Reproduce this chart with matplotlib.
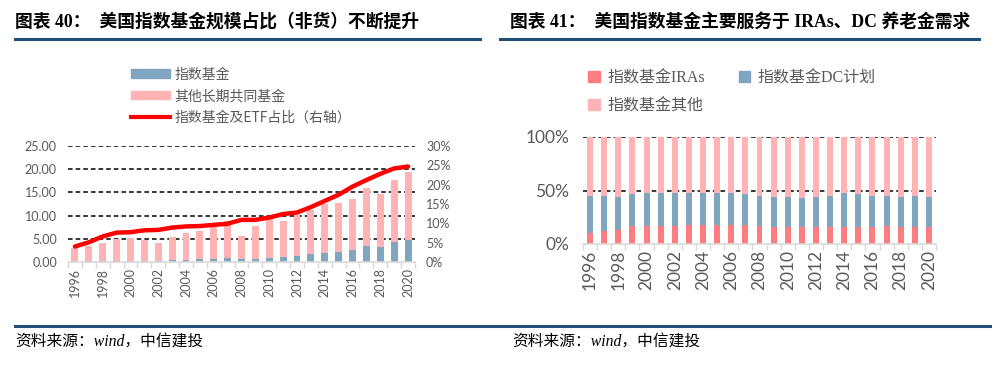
import numpy as np
import matplotlib
matplotlib.use("Agg")
import matplotlib.pyplot as plt
from matplotlib.patches import Patch
from matplotlib.lines import Line2D

plt.rcParams['font.family'] = ['Lato', 'Noto Sans CJK SC', 'DejaVu Sans']

years = list(range(1996, 2021))

# left chart: fund size (left axis) and index share (right axis)
index_fund = [0.1, 0.15, 0.2, 0.3, 0.3, 0.3, 0.3, 0.4, 0.5, 0.55, 0.7, 0.8, 0.55, 0.75,
              0.95, 1.0, 1.3, 1.7, 2.0, 2.2, 2.6, 3.4, 3.3, 4.3, 4.7]
total_fund = [3.1, 3.4, 4.0, 5.0, 5.1, 4.7, 4.1, 5.3, 6.2, 6.7, 7.6, 8.8, 5.7, 7.8,
              9.7, 8.8, 10.2, 11.3, 12.4, 12.8, 13.6, 15.9, 14.7, 17.6, 19.5]
other_fund = [t - i for t, i in zip(total_fund, index_fund)]
index_share = [4.0, 5.1, 6.6, 7.6, 7.7, 8.2, 8.3, 8.9, 9.2, 9.3, 9.6, 9.9, 10.9, 10.9,
               11.5, 12.4, 12.8, 14.2, 15.8, 17.4, 19.5, 21.2, 22.8, 24.2, 24.7]

# right chart: shares (%)
ira_share = [10.3, 12.5, 13.4, 16.5, 16.5, 16.5, 16.5, 17.4, 17.8, 17.4, 17.8, 17.4, 16.5,
             16.2, 15.9, 15.6, 15.6, 15.6, 15.9, 15.9, 16.2, 16.5, 16.2, 16.2, 15.9]
ira_dc_top = [44.5, 44.5, 43.6, 47.0, 47.4, 47.4, 47.4, 47.4, 48.0, 48.0, 47.4, 46.4, 44.9,
              43.6, 44.2, 43.0, 43.6, 45.2, 47.4, 46.4, 45.2, 45.2, 43.6, 44.5, 43.6]
dc_share = [t - i for t, i in zip(ira_dc_top, ira_share)]
other_share = [100 - t for t in ira_dc_top]

BLUE = '#7FA5C0'
PINK = '#FFB3B5'
RED_IRA = '#FF7C80'
GRAY = '#595959'
NAVY = '#1F4E79'

W, H = 1004, 391
fig = plt.figure(figsize=(W / 100, H / 100), dpi=100)


def fx(px):
    return px / W


def fy(py):
    return 1 - py / H


title_font = ['Liberation Serif', 'Noto Sans CJK SC']
fig.text(fx(15), fy(22), '图表 40：  美国指数基金规模占比（非货）不断提升', fontsize=12.8,
         fontweight='bold', family=title_font, va='center', ha='left')
fig.text(fx(510), fy(22), '图表 41：  美国指数基金主要服务于 IRAs、DC 养老金需求', fontsize=12.8,
         fontweight='bold', family=title_font, va='center', ha='left')
fig.add_artist(Line2D([fx(15), fx(480)], [fy(39), fy(39)], color=NAVY, lw=2.2))
fig.add_artist(Line2D([fx(500), fx(979)], [fy(39), fy(39)], color=NAVY, lw=2.2))
fig.add_artist(Line2D([fx(15), fx(990)], [fy(326), fy(326)], color=NAVY, lw=2.2))
src_font = ['Liberation Serif', 'Noto Sans CJK SC']
fig.text(fx(15), fy(342), '资料来源：wind，中信建投', fontsize=11.3, style='italic',
         family=src_font, va='center', ha='left')
fig.text(fx(512), fy(342), '资料来源：wind，中信建投', fontsize=11.3, style='italic',
         family=src_font, va='center', ha='left')

x = np.arange(len(years))
tick_pos = x[::2]
tick_lab = [str(y) for y in years[::2]]


def style_xaxis(ax, fs):
    ax.set_xlim(-0.5, len(years) - 0.5)
    ax.set_xticks(tick_pos)
    ax.set_xticklabels(tick_lab, rotation=90, fontsize=fs, color=GRAY)
    ax.set_xticks(np.arange(-0.5, len(years), 1), minor=True)
    ax.tick_params(axis='x', which='major', length=0, pad=4)
    ax.tick_params(axis='x', which='minor', length=4, color='#D9D9D9', width=1)
    for s in ['top', 'right', 'left']:
        ax.spines[s].set_visible(False)
    ax.spines['bottom'].set_color('#D9D9D9')
    ax.spines['bottom'].set_linewidth(1.2)


# ---- left chart
ax1 = fig.add_axes([fx(68), fy(262), fx(415 - 68), (262 - 146) / H])
ax1.bar(x, index_fund, width=0.5, color=BLUE, zorder=2)
ax1.bar(x, other_fund, width=0.5, bottom=index_fund, color=PINK, zorder=2)
ax1.set_ylim(0, 25)
ax1.set_yticks(np.arange(0, 26, 5))
ax1.set_yticklabels(['%.2f' % v for v in np.arange(0, 26, 5)], fontsize=9, color=GRAY)
ax1.tick_params(axis='y', length=0, pad=8)
for v in range(5, 26, 5):
    ax1.axhline(v, color='black', ls=(0, (3, 2)), lw=1.1, zorder=1)
style_xaxis(ax1, 9)

ax1r = ax1.twinx()
ax1r.plot(x, index_share, color='#FF0000', lw=3.2, zorder=3, solid_capstyle='round')
ax1r.set_ylim(0, 30)
ax1r.set_yticks(np.arange(0, 31, 5))
ax1r.set_yticklabels(['%d%%' % v for v in range(0, 31, 5)], fontsize=9, color=GRAY)
ax1r.tick_params(axis='y', length=0, pad=8)
for s in ['top', 'right', 'left', 'bottom']:
    ax1r.spines[s].set_visible(False)

h1 = [Patch(color=BLUE), Patch(color=PINK), Line2D([], [], color='#FF0000', lw=3)]
fig.legend(h1, ['指数基金', '其他长期共同基金', '指数基金及ETF占比（右轴）'],
           loc='upper left', bbox_to_anchor=(fx(119), fy(55)), frameon=False,
           labelcolor=GRAY, handlelength=2.8, handleheight=0.55,
           labelspacing=0.55, handletextpad=0.3,
           prop={'family': ['Noto Sans CJK SC', 'DejaVu Sans'], 'size': 10})

# ---- right chart
ax2 = fig.add_axes([fx(583), fy(244), fx(936 - 583), (244 - 137) / H])
ax2.bar(x, ira_share, width=0.42, color=RED_IRA, zorder=2)
ax2.bar(x, dc_share, width=0.42, bottom=ira_share, color=BLUE, zorder=2)
ax2.bar(x, other_share, width=0.42, bottom=ira_dc_top, color=PINK, zorder=2)
ax2.set_ylim(0, 100)
ax2.set_yticks([0, 50, 100])
ax2.set_yticklabels(['0%', '50%', '100%'], fontsize=12.5, color=GRAY)
ax2.tick_params(axis='y', length=0, pad=10)
for v in [50, 100]:
    ax2.axhline(v, color='black', ls=(0, (3, 2)), lw=1.1, zorder=1)
style_xaxis(ax2, 12.5)

# column-major fill: IRAs / 其他 in column 1, DC in column 2
h2 = [Patch(color=RED_IRA), Patch(color=PINK), Patch(color=BLUE)]
fig.legend(h2, ['指数基金IRAs', '指数基金其他', '指数基金DC计划'],
           loc='upper left', bbox_to_anchor=(fx(574), fy(56)), frameon=False,
           ncol=2, labelcolor=GRAY, handlelength=0.7, handleheight=0.7,
           handletextpad=0.5, columnspacing=2.1, labelspacing=0.75,
           prop={'family': ['Liberation Serif', 'Noto Sans CJK SC'], 'size': 11.5})

fig.savefig('out.png', dpi=100)
